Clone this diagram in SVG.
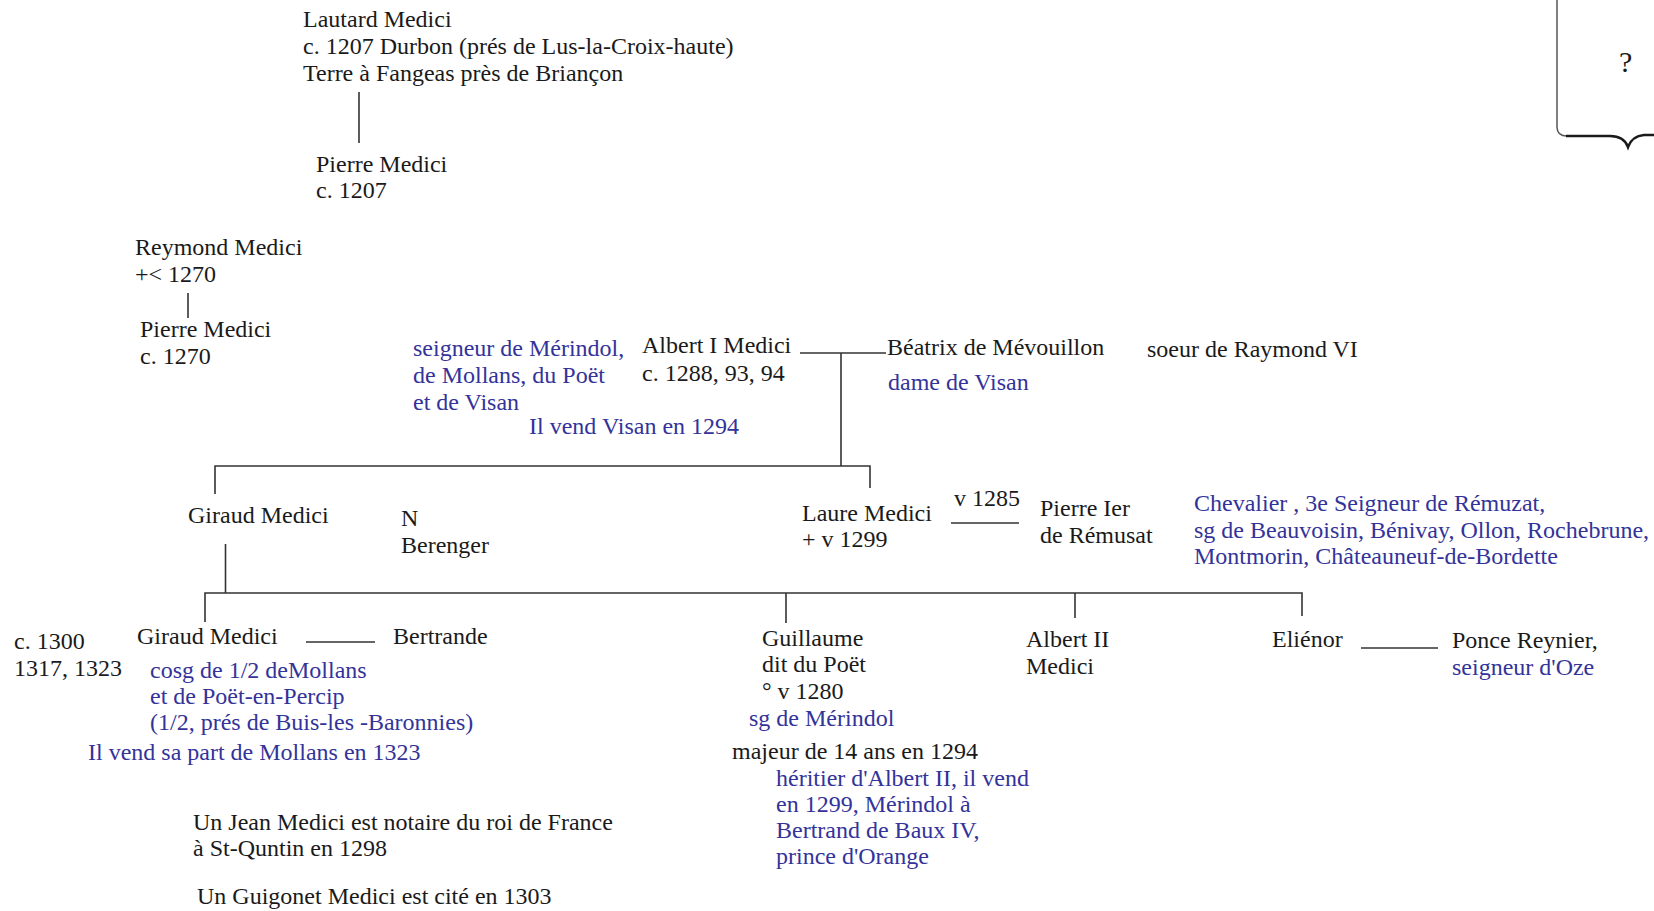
<svg xmlns="http://www.w3.org/2000/svg" width="1654" height="911" viewBox="0 0 1654 911">
<style>
text{font-family:"Liberation Serif","Times New Roman",serif;font-size:24px;fill:#1a1a1a}
.b{fill:#333399}
.ln{stroke:#333;stroke-width:1.6;fill:none}
</style>
<rect width="1654" height="911" fill="#fff"/>
<g id="connectors">
<line class="ln" x1="359" y1="92" x2="359" y2="143"/>
<line class="ln" x1="188" y1="293" x2="188" y2="318"/>
<line class="ln" x1="800" y1="353" x2="886" y2="353"/>
<polyline class="ln" points="841,353 841,466"/>
<polyline class="ln" points="215,494 215,466 870,466 870,488"/>
<line class="ln" x1="225.5" y1="544" x2="225.5" y2="593"/>
<polyline class="ln" points="205,622 205,593 1302,593 1302,616"/>
<line class="ln" x1="786" y1="593" x2="786" y2="623"/>
<line class="ln" x1="1075" y1="593" x2="1075" y2="618"/>
<line class="ln" x1="306" y1="642" x2="375" y2="642"/>
<line class="ln" x1="951" y1="523" x2="1019" y2="523"/>
<line class="ln" x1="1361" y1="648" x2="1438" y2="648"/>
</g>
<g id="brace">
<path d="M1557,0 V127 Q1557,136 1567,136" stroke="#555" stroke-width="1.5" fill="none"/>
<path d="M1566,136 H1610 Q1624,136 1628,147 Q1632,136 1644,135 H1654" stroke="#1a1a1a" stroke-width="2.6" fill="none"/>
<text x="1619" y="72" style="font-size:30px">?</text>
</g>
<g id="n_lautard"><text x="303" y="27">Lautard Medici</text><text x="303" y="54">c. 1207 Durbon (prés de Lus-la-Croix-haute)</text><text x="303" y="81">Terre à Fangeas près de Briançon</text></g>
<g id="n_pierre1"><text x="316" y="172">Pierre Medici</text><text x="316" y="198">c. 1207</text></g>
<g id="n_reymond"><text x="135" y="255">Reymond Medici</text><text x="135" y="282">+&lt; 1270</text></g>
<g id="n_pierre2"><text x="140" y="337">Pierre Medici</text><text x="140" y="364">c. 1270</text></g>
<g id="n_albert1"><text x="642" y="353">Albert I Medici</text><text x="642" y="381">c. 1288, 93, 94</text>
<text class="b" x="413" y="356">seigneur de Mérindol,</text><text class="b" x="413" y="383">de Mollans, du Poët</text><text class="b" x="413" y="410">et de Visan</text><text class="b" x="529" y="434">Il vend Visan en 1294</text></g>
<g id="n_beatrix"><text x="887" y="355">Béatrix de Mévouillon</text><text class="b" x="888" y="390">dame de Visan</text><text x="1147" y="357">soeur de Raymond VI</text></g>
<g id="n_giraud1"><text x="188" y="523">Giraud Medici</text></g>
<g id="n_berenger"><text x="401" y="526">N</text><text x="401" y="553">Berenger</text></g>
<g id="n_laure"><text x="802" y="521">Laure Medici</text><text x="802" y="547">+ v 1299</text><text x="954" y="506">v 1285</text></g>
<g id="n_pierreIer"><text x="1040" y="516">Pierre Ier</text><text x="1040" y="543">de Rémusat</text>
<text class="b" x="1194" y="511">Chevalier , 3e Seigneur de Rémuzat,</text><text class="b" x="1194" y="538">sg de Beauvoisin, Bénivay, Ollon, Rochebrune,</text><text class="b" x="1194" y="564">Montmorin, Châteauneuf-de-Bordette</text></g>
<g id="n_giraud2"><text x="14" y="649">c. 1300</text><text x="14" y="676">1317, 1323</text><text x="137" y="644">Giraud Medici</text>
<text class="b" x="150" y="678">cosg de 1/2 deMollans</text><text class="b" x="150" y="704">et de Poët-en-Percip</text><text class="b" x="150" y="730">(1/2, prés de Buis-les -Baronnies)</text><text class="b" x="88" y="760">Il vend sa part de Mollans en 1323</text></g>
<g id="n_bertrande"><text x="393" y="644">Bertrande</text></g>
<g id="n_guillaume"><text x="762" y="646">Guillaume</text><text x="762" y="672">dit du Poët</text><text x="762" y="699">° v 1280</text><text class="b" x="749" y="726">sg de Mérindol</text><text x="732" y="759">majeur de 14 ans en 1294</text>
<text class="b" x="776" y="786">héritier d'Albert II, il vend</text><text class="b" x="776" y="812">en 1299, Mérindol à</text><text class="b" x="776" y="838">Bertrand de Baux IV,</text><text class="b" x="776" y="864">prince d'Orange</text></g>
<g id="n_albert2"><text x="1026" y="647">Albert II</text><text x="1026" y="674">Medici</text></g>
<g id="n_elienor"><text x="1272" y="647">Eliénor</text></g>
<g id="n_ponce"><text x="1452" y="648">Ponce Reynier,</text><text class="b" x="1452" y="675">seigneur d'Oze</text></g>
<g id="notes"><text x="193" y="830">Un Jean Medici est notaire du roi de France</text><text x="193" y="856">à St-Quntin en 1298</text><text x="197" y="904">Un Guigonet Medici est cité en 1303</text></g>
</svg>
